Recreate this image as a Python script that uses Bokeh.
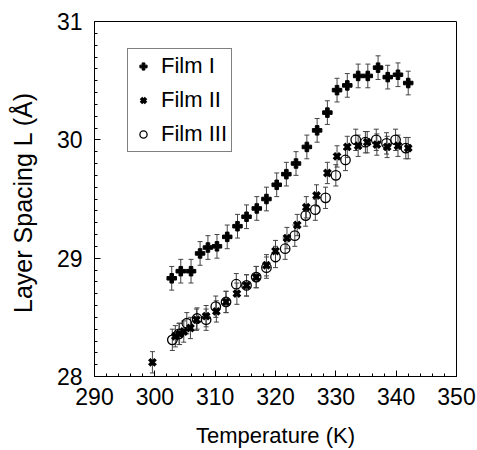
from bokeh.plotting import figure
from bokeh.models import (Range1d, FixedTicker, Whisker, TeeHead, ColumnDataSource,
                          Legend, LegendItem)
from bokeh.embed import file_html
from bokeh.resources import INLINE

# ---- data ----
temp_film1 = [302.8, 304.3, 306.0, 307.5, 308.8, 310.3, 312.0, 313.7, 315.2, 316.9,
              318.5, 320.2, 321.8, 323.4, 325.2, 326.9, 328.6, 330.2, 331.9, 333.7,
              335.3, 337.0, 338.6, 340.3, 342.0]
spacing_film1 = [28.83, 28.89, 28.89, 29.04, 29.09, 29.10, 29.18, 29.27, 29.35, 29.42,
                 29.50, 29.62, 29.71, 29.80, 29.94, 30.08, 30.23, 30.42, 30.46, 30.54,
                 30.54, 30.61, 30.53, 30.55, 30.48]

temp_film2 = [299.6, 303.4, 304.1, 304.8, 305.9, 306.9, 308.5, 310.2, 311.8, 313.6,
              315.2, 316.8, 318.5, 320.0, 321.9, 323.6, 325.1, 326.8, 328.6, 330.2,
              331.9, 333.7, 335.2, 336.8, 338.5, 340.3, 342.0]
spacing_film2 = [28.12, 28.34, 28.36, 28.38, 28.41, 28.48, 28.51, 28.55, 28.63, 28.70,
                 28.77, 28.84, 28.94, 29.06, 29.17, 29.28, 29.43, 29.53, 29.72, 29.86,
                 29.94, 29.95, 29.98, 29.96, 29.94, 29.95, 29.93]

temp_film3 = [302.9, 304.0, 305.3, 307.0, 308.5, 310.1, 311.8, 313.5, 315.2, 316.8,
              318.5, 320.0, 321.6, 323.2, 325.0, 326.6, 328.3, 330.0, 331.6, 333.3,
              334.9, 336.7, 338.4, 339.9, 341.6]
spacing_film3 = [28.31, 28.36, 28.45, 28.49, 28.48, 28.59, 28.63, 28.78, 28.77, 28.84,
                 28.92, 29.01, 29.08, 29.19, 29.36, 29.41, 29.51, 29.70, 29.83, 30.00,
                 29.98, 30.00, 29.97, 30.00, 29.93]

err_film1 = 0.10
err_film2 = 0.09
err_film3 = 0.09

labels = ["Film I", "Film II", "Film III"]
x_ticks = [290, 300, 310, 320, 330, 340, 350]
y_ticks = [28, 29, 30, 31]

FONT = "Liberation Sans"

p = figure(width=477, height=450, output_backend="svg", toolbar_location=None,
           x_range=Range1d(290, 350), y_range=Range1d(28, 31),
           min_border_left=94, min_border_right=21, min_border_top=21,
           min_border_bottom=73)
p.grid.visible = False
p.outline_line_color = "black"
p.outline_line_width = 1
p.background_fill_color = "white"
p.border_fill_color = "white"

# ticks
p.xaxis.ticker = FixedTicker(ticks=x_ticks,
                             minor_ticks=[x_ticks[0] + 2 * i for i in range(31)])
p.yaxis.ticker = FixedTicker(ticks=y_ticks,
                             minor_ticks=[round(y_ticks[0] + 0.1 * i, 1) for i in range(31)])
for ax in (p.xaxis[0], p.yaxis[0]):
    ax.major_tick_in = 6
    ax.major_tick_out = 0
    ax.minor_tick_in = 3
    ax.minor_tick_out = 0
    ax.axis_line_color = "black"
    ax.major_tick_line_color = "black"
    ax.minor_tick_line_color = "black"
    ax.major_label_text_font = FONT
    ax.major_label_text_font_size = "23px"
    ax.major_label_text_color = "black"
    ax.axis_label_text_font = FONT
    ax.axis_label_text_font_style = "normal"
    ax.axis_label_text_color = "black"

p.xaxis.axis_label = "Temperature (K)"
p.yaxis.axis_label = "Layer Spacing  L (Å)"
p.xaxis.axis_label_text_font_size = "22px"
p.yaxis.axis_label_text_font_size = "25px"
p.xaxis.major_label_standoff = 11
p.xaxis.axis_label_standoff = 15
p.yaxis.major_label_standoff = 12
p.yaxis.axis_label_standoff = 17

# error bars
def add_errors(ts, ls, err):
    src = ColumnDataSource(dict(t=ts, lo=[v - err for v in ls], hi=[v + err for v in ls]))
    w = Whisker(source=src, base="t", lower="lo", upper="hi", dimension="height",
                line_color="#444444", line_width=1,
                upper_head=TeeHead(size=5, line_color="#444444", line_width=1),
                lower_head=TeeHead(size=5, line_color="#444444", line_width=1))
    p.add_layout(w)

add_errors(temp_film1, spacing_film1, err_film1)
add_errors(temp_film2, spacing_film2, err_film2)
add_errors(temp_film3, spacing_film3, err_film3)

r1 = p.scatter(temp_film1, spacing_film1, marker="plus", size=9.5,
               fill_color="black", line_color="black")
r2 = p.scatter(temp_film2, spacing_film2, marker="x", size=9, line_width=3.5,
               line_color="black")
r3 = p.scatter(temp_film3, spacing_film3, marker="circle", size=9.5, line_width=1.3,
               line_color="black", fill_color=None)

legend = Legend(items=[LegendItem(label=labels[0], renderers=[r1]),
                       LegendItem(label=labels[1], renderers=[r2]),
                       LegendItem(label=labels[2], renderers=[r3])],
                location=(33, 224), orientation="vertical")
legend.border_line_color = "black"
legend.border_line_width = 1
legend.background_fill_color = "white"
legend.background_fill_alpha = 1
legend.label_text_font = FONT
legend.label_text_font_size = "22px"
legend.label_text_color = "black"
legend.padding = 4
legend.spacing = 8
legend.label_height = 26
legend.glyph_width = 22
legend.glyph_height = 18
legend.label_standoff = 7
legend.margin = 0
p.add_layout(legend)

open("out.html", "w").write(file_html(p, INLINE))
